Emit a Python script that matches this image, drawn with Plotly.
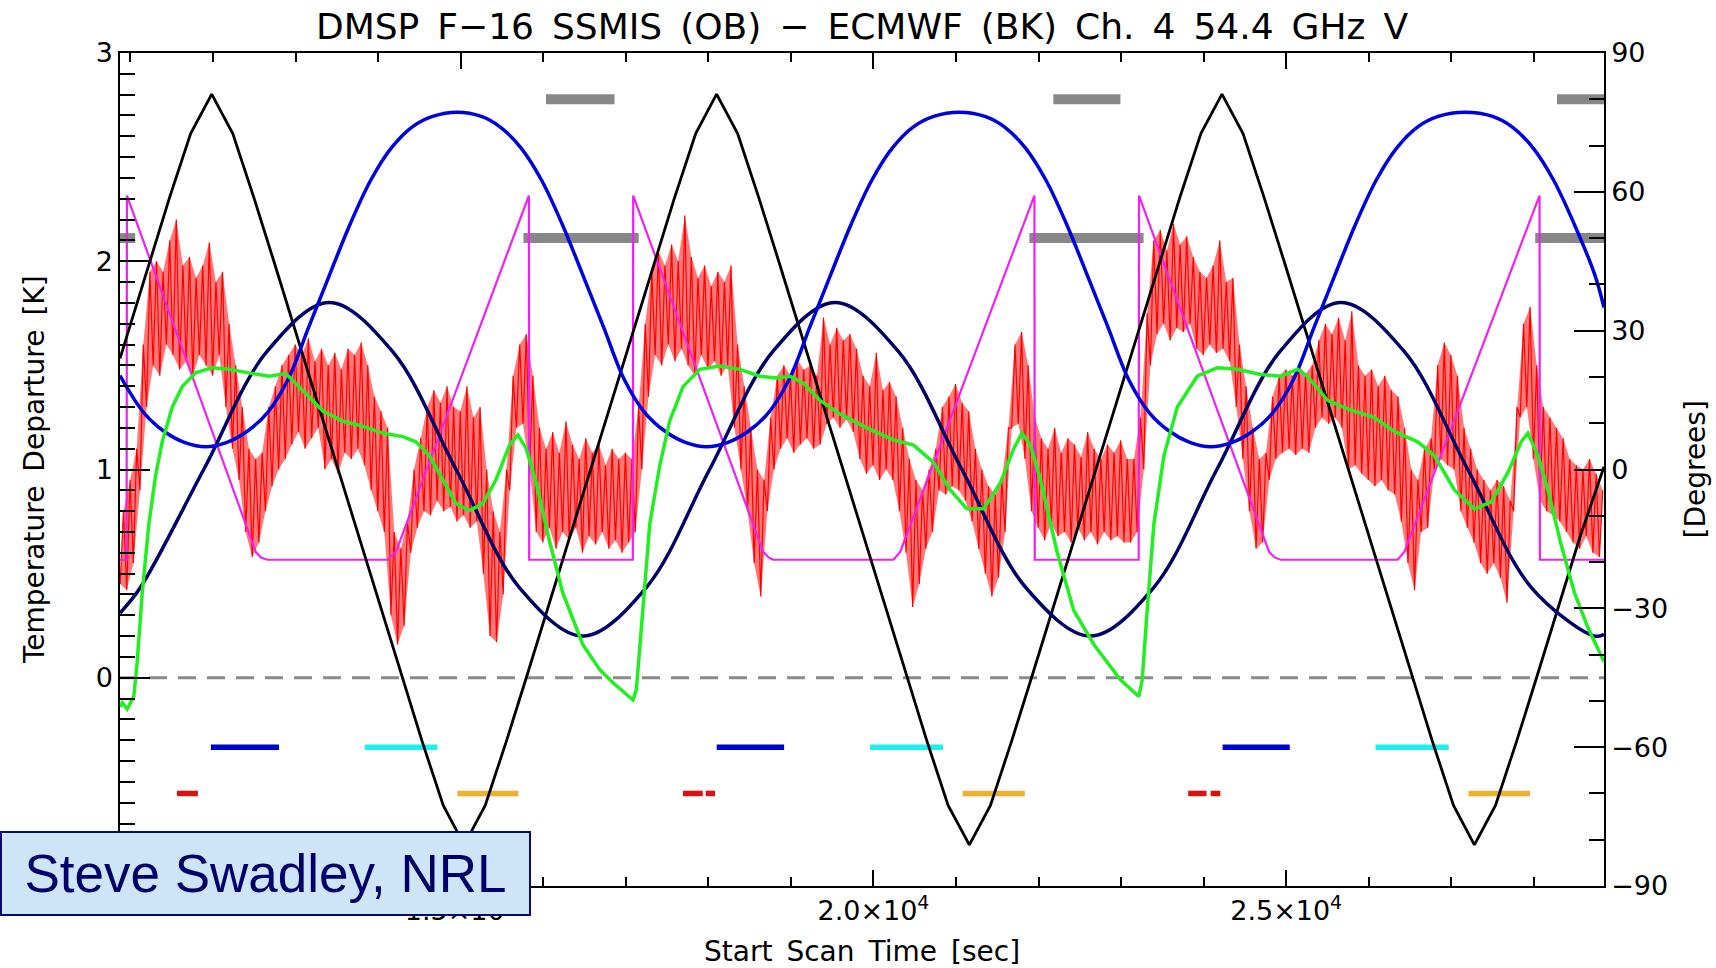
import plotly.graph_objects as go

# ---------------- time axis (seconds) ----------------
T_START, T_END = 10873, 28850

# ---------------- red: Tb departure (K), low/high envelope per 80 s bin ----------------
red_t0 = 10875
red_dt = 80
red_low = [
    0.45, 0.42, 0.55, 0.90, 1.30, 1.50, 1.45, 1.60, 1.55, 1.48,
    1.52, 1.45, 1.55, 1.50, 1.45, 1.55, 1.30, 1.10, 0.95, 0.70,
    0.58, 0.65, 0.80, 0.92, 1.00, 1.05, 1.12, 1.18, 1.10, 1.15,
    1.20, 1.00, 1.05, 0.98, 1.08, 1.05, 1.10, 1.02, 0.90, 0.80,
    0.70, 0.30, 0.16, 0.25, 0.60, 0.72, 0.80, 0.78, 0.85, 0.80,
    0.82, 0.75, 0.78, 0.72, 0.75, 0.50, 0.20, 0.17, 0.40, 0.90,
    1.20, 1.22, 1.00, 0.70, 0.65, 0.72, 0.62, 0.70, 0.66, 0.72,
    0.60, 0.68, 0.64, 0.70, 0.62, 0.66, 0.60, 0.65,
    0.70, 1.00, 1.35, 1.55, 1.50, 1.60, 1.52, 1.58, 1.50, 1.45,
    1.55, 1.48, 1.52, 1.45, 1.50, 1.20, 1.00, 0.80, 0.55, 0.39,
    0.80, 1.00, 1.10, 1.15, 1.08, 1.12, 1.15, 1.10, 1.12, 1.22,
    1.25, 1.20, 1.24, 1.18, 1.05, 0.98, 1.02, 0.95, 1.00, 0.95,
    0.80, 0.60, 0.34, 0.45, 0.62, 0.70, 0.90, 0.88, 0.92, 0.90,
    0.85, 0.75, 0.62, 0.50, 0.39, 0.48, 0.70, 1.20, 1.22, 1.05,
    0.80, 0.72, 0.66, 0.74, 0.68, 0.70, 0.65, 0.72, 0.66, 0.70,
    0.64, 0.70, 0.66, 0.68, 0.65,
    0.65, 0.70, 1.00, 1.50, 1.65, 1.70, 1.62, 1.68, 1.66, 1.70,
    1.58, 1.55, 1.60, 1.56, 1.58, 1.52, 1.30, 1.05, 0.80, 0.62,
    0.65, 0.95, 1.05, 1.08, 1.10, 1.07, 1.10, 1.08, 1.20, 1.25,
    1.22, 1.25, 1.20, 1.00, 1.02, 0.98, 0.95, 0.92, 0.95, 0.90,
    0.88, 0.75, 0.55, 0.42, 0.70, 0.72, 1.00, 1.05, 1.02, 1.00,
    0.80, 0.72, 0.65, 0.55, 0.50, 0.55, 0.48, 0.36, 0.80, 1.25,
    1.30, 1.05, 0.85, 0.80, 0.78, 0.75, 0.70, 0.65, 0.62, 0.68,
    0.60, 0.58,
]
red_high = [
    0.80, 0.95, 1.10, 1.60, 1.95, 2.00, 1.95, 2.10, 2.20, 1.98,
    2.02, 1.92, 1.98, 2.09, 1.90, 1.95, 1.70, 1.50, 1.30, 1.10,
    1.05, 1.08, 1.30, 1.40, 1.50, 1.55, 1.60, 1.55, 1.63, 1.52,
    1.58, 1.50, 1.56, 1.48, 1.58, 1.55, 1.61, 1.50, 1.35, 1.28,
    1.20, 0.70, 0.62, 0.75, 1.00, 1.15, 1.30, 1.38, 1.32, 1.40,
    1.30, 1.28, 1.40, 1.25, 1.30, 1.00, 0.80, 0.70, 1.00, 1.45,
    1.60, 1.65, 1.45, 1.20, 1.10, 1.18, 1.08, 1.23, 1.12, 1.05,
    1.15, 1.08, 1.12, 1.02, 1.10, 1.05, 1.08, 1.05,
    1.30, 1.70, 1.95, 2.05, 1.98, 2.08, 2.00, 2.22, 2.02, 1.92,
    1.98, 1.88, 1.95, 1.90, 1.98, 1.60, 1.40, 1.20, 1.00, 0.95,
    1.25, 1.45, 1.50, 1.45, 1.53, 1.48, 1.50, 1.45, 1.73, 1.60,
    1.68, 1.62, 1.65, 1.58, 1.45, 1.40, 1.56, 1.38, 1.42, 1.35,
    1.20, 1.05, 0.95, 0.90, 1.00, 1.10, 1.30, 1.35, 1.41, 1.32,
    1.28, 1.10, 1.00, 0.92, 0.88, 0.95, 1.20, 1.60, 1.66, 1.50,
    1.25, 1.15, 1.10, 1.20, 1.08, 1.15, 1.12, 1.06, 1.18, 1.10,
    1.05, 1.12, 1.08, 1.14, 1.05,
    1.05, 1.25, 1.75, 2.10, 2.15, 2.05, 2.18, 2.08, 2.12, 2.02,
    1.95, 1.92, 1.98, 2.10, 1.90, 1.92, 1.60, 1.40, 1.20, 1.05,
    1.08, 1.35, 1.45, 1.48, 1.45, 1.50, 1.46, 1.50, 1.62, 1.70,
    1.65, 1.73, 1.62, 1.76, 1.50, 1.45, 1.48, 1.40, 1.45, 1.38,
    1.35, 1.20, 1.00, 0.95, 1.10, 1.15, 1.50, 1.61, 1.55, 1.45,
    1.20, 1.10, 1.00, 0.95, 0.90, 0.95, 0.92, 0.85, 1.30, 1.70,
    1.78, 1.50, 1.30, 1.25, 1.20, 1.15, 1.05, 1.02, 1.00, 1.05,
    0.98, 0.90,
]

# ---------------- green: smoothed departure (K) ----------------
green_t = [
    10873, 10900, 10960, 11040, 11081, 11142, 11222, 11303, 11384, 11506,
    11627, 11789, 11991, 12193, 12436, 12679, 12881, 13002, 13164, 13326,
    13568, 13811, 14054, 14297, 14458, 14620, 14782, 14944, 15106, 15268,
    15429, 15591, 15692, 15794, 15915, 16077, 16238, 16481, 16683, 16845,
    17088, 17128, 17189, 17290, 17411, 17532, 17694, 17897, 18139, 18382,
    18625, 18827, 18989, 19151, 19353, 19595, 19919, 20243, 20485, 20728,
    20930, 21132, 21335, 21537, 21699, 21800, 21901, 22022, 22225, 22427,
    22670, 22872, 22993, 23215, 23256, 23316, 23397, 23519, 23680, 23923,
    24166, 24408, 24692, 24934, 25137, 25258, 25501, 25743, 26067, 26310,
    26593, 26795, 27038, 27280, 27483, 27685, 27847, 27928, 28049, 28170,
    28332, 28494, 28656, 28850,
]
green_k = [
    -0.14, -0.12, -0.15, -0.09, 0.075, 0.406, 0.737, 0.968, 1.133, 1.299,
    1.398, 1.464, 1.489, 1.481, 1.464, 1.448, 1.461, 1.415, 1.349, 1.282,
    1.233, 1.208, 1.175, 1.158, 1.133, 1.067, 0.952, 0.836, 0.803, 0.836,
    0.952, 1.117, 1.166, 1.100, 0.935, 0.654, 0.406, 0.158, 0.040, -0.024,
    -0.107, -0.057, 0.240, 0.737, 1.018, 1.233, 1.398, 1.481, 1.497, 1.481,
    1.448, 1.439, 1.448, 1.415, 1.332, 1.266, 1.200, 1.142, 1.117, 1.034,
    0.902, 0.811, 0.811, 0.935, 1.100, 1.175, 1.117, 0.952, 0.604, 0.323,
    0.160, 0.050, -0.010, -0.090, -0.010, 0.323, 0.737, 1.067, 1.299, 1.448,
    1.489, 1.481, 1.456, 1.448, 1.481, 1.448, 1.332, 1.291, 1.249, 1.183,
    1.133, 1.067, 0.902, 0.811, 0.844, 0.985, 1.133, 1.175, 1.067, 0.902,
    0.637, 0.406, 0.240, 0.077,
]

# ---------------- black: latitude (deg) ----------------
black_t = [
    10873, 11219, 11474, 11729, 11984, 12239, 12494, 12749, 13004, 13259,
    13514, 13769, 14024, 14279, 14534, 14789, 15042, 15297, 15552, 15807,
    16062, 16317, 16572, 16827, 17082, 17337, 17592, 17847, 18100, 18355,
    18610, 18865, 19120, 19375, 19630, 19885, 20140, 20395, 20650, 20905,
    21162, 21417, 21672, 21927, 22182, 22437, 22692, 22947, 23202, 23457,
    23712, 23967, 24222, 24477, 24732, 24987, 25242, 25497, 25752, 26007,
    26262, 26517, 26772, 27027, 27280, 27535, 27790, 28045, 28300, 28555,
    28850,
]
black_deg = [
    24.0, 44.3, 58.8, 72.6, 81.1, 72.6, 58.8, 44.3, 29.6, 14.8,
    0.0, -14.8, -29.6, -44.3, -58.8, -72.6, -81.1, -72.6, -58.8, -44.3,
    -29.6, -14.8, 0.0, 14.8, 29.6, 44.3, 58.8, 72.6, 81.1, 72.6,
    58.8, 44.3, 29.6, 14.8, 0.0, -14.8, -29.6, -44.3, -58.8, -72.6,
    -81.1, -72.6, -58.8, -44.3, -29.6, -14.8, 0.0, 14.8, 29.6, 44.3,
    58.8, 72.6, 81.1, 72.6, 58.8, 44.3, 29.6, 14.8, 0.0, -14.8,
    -29.6, -44.3, -58.8, -72.6, -81.1, -72.6, -58.8, -44.3, -29.6, -14.8,
    0.6,
]

# ---------------- navy: angle (deg) ----------------
navy_t = [
    10873, 11120, 11887, 12654, 13407, 14174, 14944, 15711, 16481, 17248,
    18015, 18782, 19535, 20302, 21072, 21845, 22629, 23395, 24160, 24925,
    25662, 26430, 27200, 27970, 28737, 28850,
]
navy_deg = [
    -31.0, -25.5, 0.0, 25.5, 36.1, 25.5, 0.0, -25.5, -36.0, -25.5,
    0.0, 25.5, 36.1, 25.5, 0.0, -25.5, -36.0, -25.5, 0.0, 25.5,
    36.1, 25.5, 0.0, -25.5, -36.0, -35.6,
]

# ---------------- blue: angle (deg) ----------------
blue_t = [
    10873, 11160, 11410, 11660, 11910, 12160, 12410, 12660, 12910, 13160,
    13410, 13660, 13910, 14160, 14410, 14660, 14960, 15250, 15480, 15730,
    15980, 16230, 16480, 16730, 16980, 17230, 17480, 17730, 17977, 18230,
    18480, 18730, 18980, 19230, 19480, 19730, 19980, 20230, 20480, 20730,
    21040, 21350, 21590, 21840, 22090, 22340, 22590, 22840, 23090, 23340,
    23590, 23840, 24085, 24340, 24590, 24840, 25090, 25340, 25590, 25840,
    26090, 26340, 26590, 26840, 27170, 27500, 27740, 27990, 28240, 28490,
    28740, 28850,
]
blue_deg = [
    20.3, 12.3, 8.2, 5.8, 4.9, 5.8, 8.2, 12.3, 19.5, 30.8,
    42.0, 53.0, 62.5, 69.5, 74.0, 76.3, 77.2, 76.3, 74.0, 69.5,
    62.5, 53.0, 42.0, 30.8, 19.5, 12.3, 8.2, 5.8, 4.9, 5.8,
    8.2, 12.3, 19.5, 30.8, 42.0, 53.0, 62.5, 69.5, 74.0, 76.3,
    77.2, 76.3, 74.0, 69.5, 62.5, 53.0, 42.0, 30.8, 19.5, 12.3,
    8.2, 5.8, 4.9, 5.8, 8.2, 12.3, 19.5, 30.8, 42.0, 53.0,
    62.5, 69.5, 74.0, 76.3, 77.2, 76.3, 74.0, 69.5, 62.5, 53.0,
    42.0, 35.0,
]

# ---------------- magenta: clipped angle (deg) ----------------
mag_t = [
    10873, 10953, 10957, 12517, 12580, 12658, 14115, 14216, 15826, 15830,
    17085, 17090, 18665, 18730, 18786, 20243, 20324, 21950, 21954, 23213,
    23217, 24793, 24860, 24934, 26350, 26431, 28069, 28073, 28850,
]
mag_deg = [
    -19.5, -19.5, 59.2, -17.8, -19.0, -19.5, -19.5, -17.8, 59.2, -19.5,
    -19.5, 59.2, -17.8, -19.0, -19.5, -19.5, -17.8, 59.2, -19.5, -19.5,
    59.2, -17.8, -19.0, -19.5, -19.5, -17.8, 59.2, -19.5, -19.5,
]

# ---------------- flag bars (start, end) in seconds ----------------
gray_upper_spans = [(16033, 16864), (22179, 22992), (28281, 28850)]
gray_lower_spans = [(10873, 11057), (15760, 17156), (21889, 23272), (28017, 28850)]
GRAY_UPPER_DEG, GRAY_LOWER_DEG = 80, 50

blue_spans = [(11974, 12799), (18101, 18918), (24230, 25043)]
cyan_spans = [(13837, 14717), (19959, 20844), (26082, 26969)]
red_spans = [(11562, 11817), (17692, 17932), (17969, 18082), (23813, 24036), (24085, 24203)]
orange_spans = [(14959, 15699), (21081, 21834), (27208, 27955)]
UPPER_FLAG_DEG, LOWER_FLAG_DEG = -60, -70

# ---------------- tick labels ----------------
x_tickvals = [15000, 20000, 25000]
x_ticktext = ["1.5\u00d710<sup>4</sup>", "2.0\u00d710<sup>4</sup>", "2.5\u00d710<sup>4</sup>"]
yl_tickvals = [-1, 0, 1, 2, 3]
yl_ticktext = ["\u22121", "0", "1", "2", "3"]
yr_tickvals = [-90, -60, -30, 0, 30, 60, 90]
yr_ticktext = ["\u221290", "\u221260", "\u221230", "0", "30", "60", "90"]

FONT = "DejaVu Sans"
SP = "\u2002"


def span_xy(spans, level):
    xs, ys = [], []
    for a, b in spans:
        xs += [a, b, None]
        ys += [level, level, None]
    return xs, ys


# envelope times: low value at bin start, high value half a bin later
lo_x = [red_t0 + i * red_dt for i in range(len(red_low))]
hi_x = [t + red_dt / 2 for t in lo_x]

# zig-zag between the low and high envelope of each bin
red_x, red_y = [], []
for tl, th, lo, hi in zip(lo_x, hi_x, red_low, red_high):
    red_x += [tl, th]
    red_y += [lo, hi]

fig = go.Figure()

# zero reference line (K axis)
fig.add_trace(go.Scatter(x=[T_START, T_END], y=[0, 0], mode="lines",
                         line=dict(color="#8a8a8a", width=3, dash="18px,11px"),
                         yaxis="y", hoverinfo="skip"))
# dense band of the noisy departure
fig.add_trace(go.Scatter(x=lo_x, y=red_low, mode="lines", yaxis="y",
                         line=dict(color="rgba(255,0,0,0)", width=0)))
fig.add_trace(go.Scatter(x=hi_x, y=red_high, mode="lines", yaxis="y", fill="tonexty",
                         fillcolor="rgba(255,10,10,0.55)",
                         line=dict(color="rgba(255,0,0,0)", width=0)))
fig.add_trace(go.Scatter(x=red_x, y=red_y, mode="lines",
                         line=dict(color="#ff0000", width=1.2), yaxis="y"))

# degree-axis traces
for spans, level, color, w in [
    (blue_spans, UPPER_FLAG_DEG, "#0000cc", 5.5),
    (cyan_spans, UPPER_FLAG_DEG, "#22eeee", 5.5),
    (red_spans, LOWER_FLAG_DEG, "#dd1111", 5.5),
    (orange_spans, LOWER_FLAG_DEG, "#eeb030", 5.5),
    (gray_lower_spans, GRAY_LOWER_DEG, "#878787", 10),
    (gray_upper_spans, GRAY_UPPER_DEG, "#878787", 10),
]:
    xs, ys = span_xy(spans, level)
    fig.add_trace(go.Scatter(x=xs, y=ys, mode="lines", yaxis="y2",
                             line=dict(color=color, width=w)))

fig.add_trace(go.Scatter(x=mag_t, y=mag_deg, mode="lines", yaxis="y2",
                         line=dict(color="#ee22ee", width=2.2)))
fig.add_trace(go.Scatter(x=black_t, y=black_deg, mode="lines", yaxis="y2",
                         line=dict(color="#000000", width=2.8)))
fig.add_trace(go.Scatter(x=navy_t, y=navy_deg, mode="lines", yaxis="y2",
                         line=dict(color="#000066", width=3.5, shape="spline")))
fig.add_trace(go.Scatter(x=blue_t, y=blue_deg, mode="lines", yaxis="y2",
                         line=dict(color="#0000dd", width=3.5, shape="spline")))

# smoothed departure on top
fig.add_trace(go.Scatter(x=green_t, y=green_k, mode="lines", yaxis="y3",
                         line=dict(color="#22ee22", width=3.5)))

axis_common = dict(showgrid=False, zeroline=False, showline=True, linecolor="black",
                   linewidth=1.5, ticks="inside", tickcolor="black", tickwidth=1.5,
                   tickfont=dict(family=FONT, size=27, color="black"))

title_text = SP.join(["DMSP", "F\u221216", "SSMIS", "(OB)", "\u2212", "ECMWF", "(BK)",
                      "Ch.", "4", "54.4", "GHz", "V"])

fig.update_layout(
    width=1716, height=968,
    margin=dict(l=120, r=112, t=53, b=82),
    paper_bgcolor="white", plot_bgcolor="white",
    showlegend=False,
    title=dict(text=title_text,
               x=0.5, xref="paper", xanchor="center", y=1 - 26 / 968, yanchor="middle",
               yref="container", font=dict(family=FONT, size=36, color="black")),
    xaxis=dict(range=[T_START, T_END], tickmode="array", tickvals=x_tickvals,
               ticktext=x_ticktext, ticklen=16, mirror="ticks",
               minor=dict(tickmode="array", tickvals=list(range(11000, 29000, 1000)),
                          ticklen=9, ticks="inside", tickcolor="black", tickwidth=1.5),
               **axis_common),
    yaxis=dict(range=[-1, 3], tickmode="array", tickvals=yl_tickvals, ticktext=yl_ticktext,
               ticklen=30, mirror=False,
               minor=dict(tickmode="array", tickvals=[round(-1 + 0.1 * k, 1) for k in range(41)],
                          ticklen=15, ticks="inside", tickcolor="black", tickwidth=1.5),
               **axis_common),
    yaxis2=dict(range=[-90, 90], overlaying="y", side="right", tickmode="array",
                tickvals=yr_tickvals, ticktext=yr_ticktext, ticklen=30,
                minor=dict(tickmode="array", tickvals=list(range(-90, 91, 10)),
                           ticklen=15, ticks="inside", tickcolor="black", tickwidth=1.5),
                **axis_common),
    yaxis3=dict(range=[-1, 3], overlaying="y", visible=False),
)

annotations = [
    dict(text=SP.join(["Temperature", "Departure", "[K]"]), textangle=-90,
         xref="paper", yref="paper",
         x=(34.5 - 120) / 1484, y=0.5, xanchor="center", yanchor="middle", showarrow=False,
         font=dict(family=FONT, size=28, color="black")),
    dict(text="[Degrees]", textangle=-90, xref="paper", yref="paper",
         x=(1695 - 120) / 1484, y=0.5, xanchor="center", yanchor="middle", showarrow=False,
         font=dict(family=FONT, size=28, color="black")),
    dict(text=SP.join(["Start", "Scan", "Time", "[sec]"]), xref="paper", yref="paper",
         x=0.5, y=(886 - 951) / 833, xanchor="center", yanchor="middle", showarrow=False,
         font=dict(family=FONT, size=28, color="black")),
    dict(text="Steve Swadley, NRL", xref="paper", yref="paper",
         x=(0 - 120) / 1484, y=(886 - 831) / 833, xanchor="left", yanchor="top",
         showarrow=False, width=527, height=81, align="center", valign="middle",
         bgcolor="#cde5f7", bordercolor="#0a0a6a", borderwidth=2, borderpad=0,
         font=dict(family="Liberation Sans", size=53, color="#00006b")),
]
fig.update_layout(annotations=annotations)

fig.write_html("out.html")
